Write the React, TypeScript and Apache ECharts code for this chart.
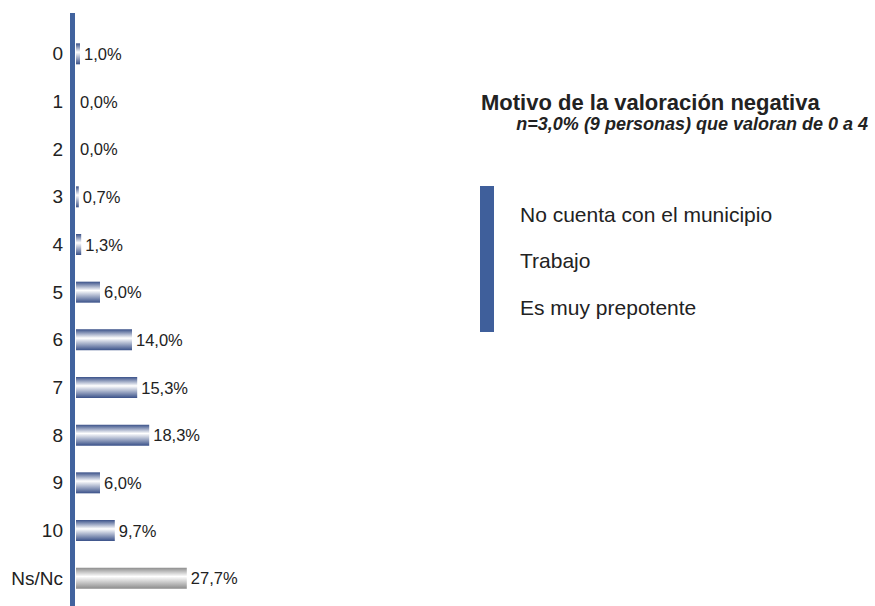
import React, { useEffect, useRef } from "react";
import * as echarts from "echarts";

const categories = ["0", "1", "2", "3", "4", "5", "6", "7", "8", "9", "10", "Ns/Nc"];
const values = [1.0, 0.0, 0.0, 0.7, 1.3, 6.0, 14.0, 15.3, 18.3, 6.0, 9.7, 27.7];
const titleText = "Motivo de la valoración negativa";
const subtitleText = "n=3,0% (9 personas) que valoran de 0 a 4";
const reasons = ["No cuenta con el municipio", "Trabajo", "Es muy prepotente"];

const FONT = "'Liberation Sans', Arial, Helvetica, sans-serif";

export default function App() {
  const ref = useRef<HTMLDivElement>(null);
  useEffect(() => {
    if (!ref.current) return;
    const chart = echarts.init(ref.current, null, { renderer: "svg" });
    const blueGrad = new echarts.graphic.LinearGradient(0, 0, 0, 1, [
      { offset: 0, color: "#3a5189" },
      { offset: 0.42, color: "#ffffff" },
      { offset: 1, color: "#3a5189" },
    ]);
    const grayGrad = new echarts.graphic.LinearGradient(0, 0, 0, 1, [
      { offset: 0, color: "#8c8c8c" },
      { offset: 0.42, color: "#ffffff" },
      { offset: 1, color: "#8c8c8c" },
    ]);
    const data = values.map((v, i) => ({
      value: v,
      itemStyle: { color: categories[i] === "Ns/Nc" ? grayGrad : blueGrad },
    }));
    chart.setOption({
      animation: false,
      backgroundColor: "#ffffff",
      grid: { left: 76, top: 30, height: 572, width: 400 },
      xAxis: { type: "value", min: 0, max: 100, show: false },
      yAxis: {
        type: "category",
        data: categories,
        inverse: true,
        axisLine: { show: false },
        axisTick: { show: false },
        axisLabel: { color: "#222222", fontSize: 19, fontFamily: FONT, margin: 13 },
      },
      series: [
        {
          type: "bar",
          data,
          barWidth: 21,
          label: {
            show: true,
            position: "right",
            distance: 4,
            color: "#222222",
            fontSize: 16.5,
            fontFamily: FONT,
            formatter: (p: any) => p.value.toFixed(1).replace(".", ",") + "%",
          },
        },
      ],
      graphic: [
        { type: "rect", shape: { x: 70, y: 13, width: 5, height: 593 }, style: { fill: "#41639e" } },
        {
          type: "text",
          x: 481,
          y: 102,
          style: { text: titleText, font: `bold 22px ${FONT}`, fill: "#222222", verticalAlign: "middle" },
        },
        {
          type: "text",
          x: 868,
          y: 124,
          style: { text: subtitleText, font: `italic bold 18px ${FONT}`, fill: "#222222", align: "right", verticalAlign: "middle" },
        },
        { type: "rect", shape: { x: 480, y: 186, width: 14, height: 146 }, style: { fill: "#3f5f9b" } },
        ...reasons.map((r, i) => ({
          type: "text",
          x: 520,
          y: 214 + i * 46.5,
          style: { text: r, font: `21px ${FONT}`, fill: "#222222", verticalAlign: "middle" },
        })),
      ],
    });
    return () => chart.dispose();
  }, []);
  return <div ref={ref} style={{ width: 875, height: 606, position: "fixed", left: 0, top: 0 }} />;
}
